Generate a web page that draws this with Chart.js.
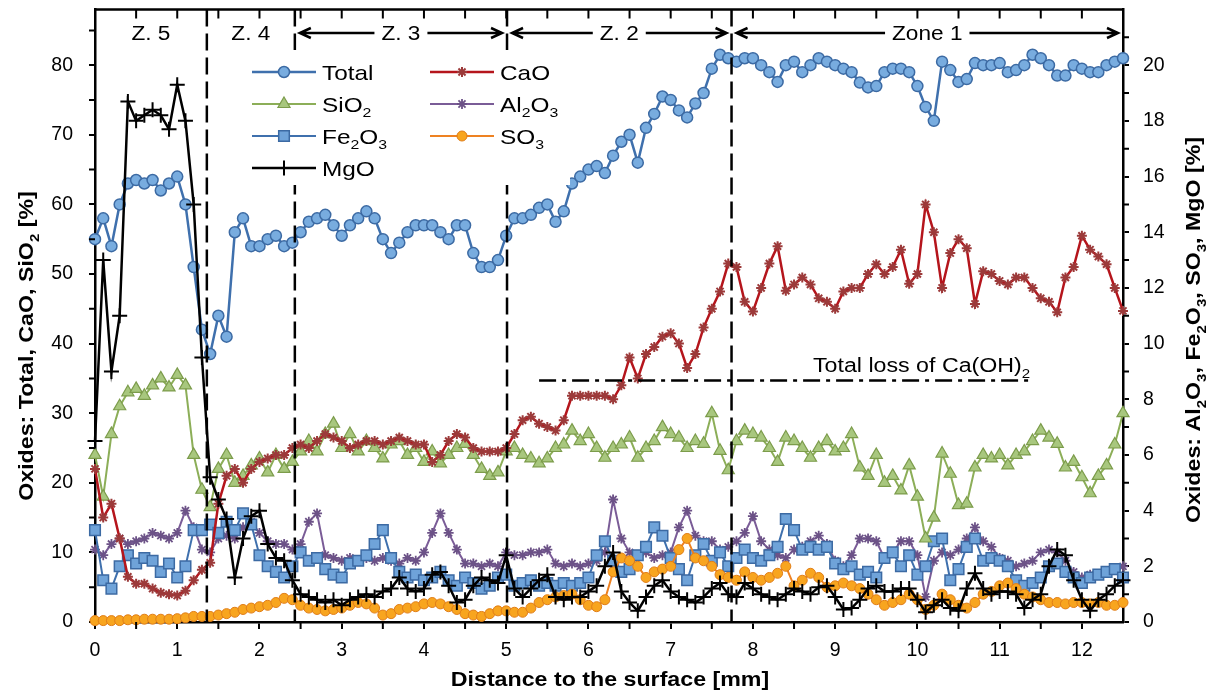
<!DOCTYPE html>
<html>
<head>
<meta charset="utf-8">
<script src="https://cdn.jsdelivr.net/npm/chart.js@4.4.1/dist/chart.umd.min.js"></script>
<style>
html,body{margin:0;padding:0;background:#fff}
#wrap{width:1214px;height:690px}
</style>
</head>
<body>
<div id="wrap"><canvas id="chart" width="1214" height="690"></canvas></div>
<script>
// distance to the surface [mm]
const dist = [
  0,0.1,0.2,0.3,0.4,0.5,0.6,0.7,0.8,0.9,
  1,1.1,1.2,1.3,1.4,1.5,1.6,1.7,1.8,1.9,
  2,2.1,2.2,2.3,2.4,2.5,2.6,2.7,2.8,2.9,
  3,3.1,3.2,3.3,3.4,3.5,3.6,3.7,3.8,3.9,
  4,4.1,4.2,4.3,4.4,4.5,4.6,4.7,4.8,4.9,
  5,5.1,5.2,5.3,5.4,5.5,5.6,5.7,5.8,5.9,
  6,6.1,6.2,6.3,6.4,6.5,6.6,6.7,6.8,6.9,
  7,7.1,7.2,7.3,7.4,7.5,7.6,7.7,7.8,7.9,
  8,8.1,8.2,8.3,8.4,8.5,8.6,8.7,8.8,8.9,
  9,9.1,9.2,9.3,9.4,9.5,9.6,9.7,9.8,9.9,
  10,10.1,10.2,10.3,10.4,10.5,10.6,10.7,10.8,10.9,
  11,11.1,11.2,11.3,11.4,11.5,11.6,11.7,11.8,11.9,
  12,12.1,12.2,12.3,12.4,12.5
]

// left axis series [%]
const total = [
  55,58,54,60,63,63.5,63,63.5,62,63,
  64,60,51,42,38.5,44,41,56,58,54,
  54,55,55.5,54,54.5,56,57.5,58,58.5,57,
  55.5,57,58,59,58,55,53,54.5,56,57,
  57,57,56,55,57,57,53,51,51,52,
  55.5,58,58,58.5,59.5,60,57.5,59,63,64,
  65,65.5,64.5,67,69,70,66,71,73,75.5,
  75,73.5,72.5,74.5,76,79.5,81.5,81,80.5,81,
  81,80,79,77.6,80,80.5,79,80,81,80.5,
  80,79.5,79,77.5,76.8,77,79,79.5,79.5,79,
  77,74,72,80.5,79.3,77.6,78,80.3,80,80,
  80.3,79,79.3,80,81.5,81,80,78.5,78.5,80,
  79.5,79,79,80,80.5,81
]
const cao = [
  22,15,17,12,6.5,5.5,5.5,4.8,4.2,4,
  3.8,4.5,6,7.5,8.5,17,21,22,20,22,
  23,23.5,24,24,25,25.5,25,26,27,26.5,
  26,25,25.5,26,26,25.5,26,26.5,26,25.5,
  25.5,23,24,26,27,26.5,25,24.5,24.5,24.5,
  25,27,29,29.5,28.5,28,27.5,29,32.5,32.5,
  32.5,32.5,32.5,32,34,38,35,38.5,39.5,41,
  41.5,40,36.5,38.5,42.3,45,47.5,51.5,51,46,
  44.6,48,51.5,54,47.6,48.5,49.5,48.5,46.5,46,
  45,47.5,48,48,50,51.4,50,51,53.5,48.6,
  50,60,56,48,53,55,53.7,45.7,50.4,50,
  49,48.5,49.5,49.5,48,46.5,46,44.5,49.5,51,
  55.5,53.5,52.5,51.4,48,44.7
]
const sio2 = [
  24,18,27,31,33,33.5,32.5,34,35,33.7,
  35.5,34,24,19,16.5,22,24,20,21,22.5,
  23.5,21.5,24,22,23,24.5,26,24.5,27,28.5,
  25,27,24.5,26,25,23.5,25.5,26,24,25,
  23,24.5,22.8,24,25,25.6,24,22,21,21.5,
  24.5,25,24,23.5,22.8,23.5,25,25.5,27.5,26,
  27,25,23.6,25,25.5,26.5,23.6,25,26,28,
  27,26.5,25,26,25.6,30,24.6,21.8,26,27.5,
  27,26.5,25,23,26.5,26,25,23.6,25,26,
  24.5,25,27,22.2,21,24,20,21,18.9,22.5,
  18,12,15,24.2,21.3,16.8,17,22.2,24,23.5,
  24,22.5,24,24.5,26,27.5,26.5,25.6,22.2,23,
  20.8,18.5,21,22.5,25.5,30
]

// right axis series [%]
const al2o3 = [
  2.6,2.4,2.8,3.0,2.8,2.9,3.0,3.2,3.1,3.0,
  3.2,4.0,3.4,2.6,2.5,3.0,3.1,3.0,3.4,3.6,
  3.2,2.9,2.8,2.8,2.6,2.8,3.6,3.9,2.4,2.3,
  2.2,2.3,2.2,2.3,2.2,2.3,2.2,2.1,2.3,2.2,
  2.5,3.2,3.9,3.2,2.6,2.1,2.1,2.0,2.1,2.0,
  2.5,2.4,2.4,2.5,2.5,2.6,2.1,2.0,2.1,2.0,
  2.1,2.2,2.5,4.4,3.0,2.5,2.4,2.5,2.3,2.4,
  2.5,3.4,4.0,3.1,2.9,2.9,2.6,2.7,2.9,3.2,
  3.8,2.9,2.6,2.4,2.3,2.6,2.7,2.9,3.1,2.8,
  2.2,2.0,2.4,3.0,3.0,2.9,2.3,2.5,2.9,2.9,
  2.4,0.9,2.2,2.5,2.4,2.6,3.0,3.4,2.9,2.7,
  2.3,2.2,2.0,2.1,2.2,2.5,2.6,2.5,2.2,1.8,
  1.6,1.7,1.7,1.8,1.9,2.0
]
const fe2o3 = [
  3.3,1.5,1.2,2.0,2.4,2.1,2.3,2.2,1.8,2.1,
  1.6,2.0,3.3,3.3,3.5,3.2,3.6,3.3,3.9,3.5,
  2.4,2.0,1.8,1.6,2.0,2.5,2.2,2.3,1.9,1.7,
  1.6,2.1,2.2,2.4,2.8,3.3,2.3,1.8,1.6,1.7,
  1.5,1.6,1.8,1.5,1.3,1.6,1.4,1.2,1.3,1.6,
  1.7,1.3,1.4,1.5,1.3,1.4,1.3,1.4,1.3,1.4,
  1.6,2.4,2.9,2.2,1.8,1.9,2.4,2.7,3.4,3.1,
  2.3,1.9,1.5,2.4,2.8,2.2,2.5,2.0,2.3,2.6,
  2.3,2.2,2.4,2.7,3.7,3.3,2.6,2.7,2.6,2.7,
  2.1,1.9,2.0,1.7,1.8,1.6,2.3,2.5,2.0,2.4,
  1.7,2.0,2.9,3.0,1.5,1.9,2.7,3.0,2.2,2.3,
  2.2,2.0,1.5,1.3,1.4,1.6,2.0,2.1,1.8,1.6,
  1.4,1.6,1.7,1.8,1.9,1.6
]
const so3 = [
  0.05,0.05,0.05,0.05,0.08,0.08,0.1,0.1,0.1,0.1,
  0.12,0.15,0.2,0.2,0.2,0.25,0.3,0.35,0.45,0.5,
  0.55,0.6,0.7,0.85,0.8,0.6,0.5,0.45,0.4,0.45,
  0.5,0.6,0.7,0.65,0.5,0.25,0.3,0.45,0.5,0.55,
  0.65,0.7,0.65,0.55,0.45,0.3,0.25,0.2,0.3,0.4,
  0.4,0.35,0.35,0.5,0.7,0.8,0.9,0.95,1.0,0.8,
  0.6,0.55,0.8,1.8,2.3,2.2,2.0,1.6,1.8,1.9,
  2.0,2.6,3.0,2.3,2.2,2.0,1.7,1.6,1.5,1.8,
  1.6,1.5,1.6,1.75,2.0,1.3,1.5,1.75,1.6,1.25,
  1.3,1.4,1.3,1.2,1.0,0.8,0.6,0.7,0.8,1.0,
  0.8,0.45,0.6,1.0,0.8,0.6,0.5,0.7,1.0,1.1,
  1.3,1.4,1.2,1.0,0.9,0.8,0.7,0.7,0.65,0.7,
  0.7,0.65,0.7,0.6,0.6,0.7
]
const mgo = [
  6.5,13,9,11,18.7,18,18.2,18.4,18.2,17.7,
  19.3,18,15,9.5,5.2,4.4,3.7,1.6,3.0,3.8,
  4.0,2.8,2.3,2.2,1.5,1.0,0.9,0.8,0.7,0.8,
  0.6,0.8,0.9,1.0,0.9,1.1,1.2,1.6,1.2,1.1,
  1.2,1.7,1.8,1.3,0.7,0.8,1.3,1.6,1.5,1.4,
  2.4,1.2,0.9,1.2,1.5,1.7,0.9,0.8,0.9,0.9,
  1.1,1.3,2.0,2.5,1.1,0.7,0.4,0.9,1.3,1.5,
  1.1,0.9,0.8,0.7,0.9,1.2,1.4,1.0,0.9,1.4,
  1.2,1.0,0.9,0.8,1.0,1.2,1.1,1.0,1.25,1.3,
  0.9,0.45,0.5,0.8,1.2,1.3,1.1,1.1,1.2,1.2,
  0.8,0.35,0.6,0.8,0.5,0.4,1.2,1.75,1.2,1.0,
  1.1,1.1,1.0,0.5,0.8,1.0,2.0,2.6,2.4,1.5,
  0.8,0.4,0.8,1.0,1.3,1.5
]

// axes
const xTicks = [0,1,2,3,4,5,6,7,8,9,10,11,12]
const yTicks = [0,10,20,30,40,50,60,70,80]
const y2Ticks = [0,2,4,6,8,10,12,14,16,18,20]

// zones (boundaries in mm) and labels
const zoneBounds = [0, 1.36, 2.43, 5.01, 7.74, 12.5]
const zoneLabels = ['Z. 5', 'Z. 4', 'Z. 3', 'Z. 2', 'Zone 1']
const zoneArrows = [false, false, true, true, true]

// "total loss of Ca(OH)2" line: from/to [mm], level on left axis
const lossFrom = 5.4
const lossTo = 11.4
const lossLevel = 34.7
const lossText = 'Total loss of Ca(OH)_2'
const lossTextAt = 8.73

const FONT = "'Liberation Sans', Arial, sans-serif"
const SX = 1.16

function rich(ctx, str, x, y, size, opts){
    opts = opts || {}
    const weight = opts.bold ? 'bold ' : ''
    const subSize = size * 0.65
    let w = 0
    const items = str.split(/(_\d)/).filter(s => s.length).map(s => {
        const isSub = s[0] === '_'
        const t = isSub ? s.slice(1) : s
        ctx.font = weight + (isSub ? subSize : size) + 'px ' + FONT
        const mw = ctx.measureText(t).width
        w += mw
        return {t, isSub, mw}
    })
    const sx = opts.sx || SX
    if (opts.measure) return w * sx
    ctx.save()
    ctx.translate(x, y)
    if (opts.rot) ctx.rotate(opts.rot)
    ctx.scale(sx, 1)
    let cx = opts.align === 'center' ? -w / 2 : 0
    ctx.fillStyle = '#000'
    ctx.textAlign = 'left'
    ctx.textBaseline = 'alphabetic'
    items.forEach(it => {
        ctx.font = weight + (it.isSub ? subSize : size) + 'px ' + FONT
        ctx.fillText(it.t, cx, it.isSub ? size * 0.28 : 0)
        cx += it.mw
    })
    ctx.restore()
    return w * sx
}

function arrow(ctx, x1, x2, y){
    const d = x2 > x1 ? -1 : 1
    ctx.beginPath()
    ctx.moveTo(x1, y)
    ctx.lineTo(x2, y)
    ctx.moveTo(x2 + d * 11, y - 5)
    ctx.lineTo(x2, y)
    ctx.lineTo(x2 + d * 11, y + 5)
    ctx.stroke()
}

const series = [
    {name:'Total', data:total, axis:'y', order:1,
     style:{borderColor:'#3f70ad', borderWidth:2.5, pointStyle:'circle', pointRadius:5.5,
            pointBackgroundColor:'#78acdf', pointBorderColor:'#3c6aa3', pointBorderWidth:1.5}},
    {name:'CaO', data:cao, axis:'y', order:2,
     style:{borderColor:'#b5151c', borderWidth:2.5, pointStyle:'star', pointRadius:5,
            pointBackgroundColor:'#9c3a3a', pointBorderColor:'#9c3a3a', pointBorderWidth:2}},
    {name:'SiO_2', data:sio2, axis:'y', order:4,
     style:{borderColor:'#8cae58', borderWidth:2, pointStyle:'triangle', pointRadius:7,
            pointBackgroundColor:'#a8c77e', pointBorderColor:'#7c9c4b', pointBorderWidth:1.2}},
    {name:'Al_2O_3', data:al2o3, axis:'y2', order:6,
     style:{borderColor:'#7a5c97', borderWidth:2, pointStyle:'star', pointRadius:5,
            pointBackgroundColor:'#6c5287', pointBorderColor:'#6c5287', pointBorderWidth:1.8}},
    {name:'Fe_2O_3', data:fe2o3, axis:'y2', order:5,
     style:{borderColor:'#3f70ad', borderWidth:2, pointStyle:'rect', pointRadius:7.5,
            pointBackgroundColor:'#6fa3d9', pointBorderColor:'#3c6aa3', pointBorderWidth:1.5}},
    {name:'SO_3', data:so3, axis:'y2', order:3,
     style:{borderColor:'#ee8222', borderWidth:2, pointStyle:'circle', pointRadius:5,
            pointBackgroundColor:'#f8a51f', pointBorderColor:'#e07d18', pointBorderWidth:1}},
    {name:'MgO', data:mgo, axis:'y2', order:0,
     style:{borderColor:'#000', borderWidth:2.5, pointStyle:'cross', pointRadius:7.5,
            pointBackgroundColor:'#000', pointBorderColor:'#000', pointBorderWidth:2}}
]

const datasets = series.map(s => Object.assign({
    label: s.name.replace(/_2/g,'\u2082').replace(/_3/g,'\u2083'),
    data: dist.map((x, i) => ({x: x, y: s.data[i]})),
    yAxisID: s.axis,
    order: s.order,
    tension: 0,
    clip: false
}, s.style))

// extra drawing: frame, minor ticks, zone marks, legend, titles
const decor = {
    id:'decor',
    afterDatasetsDraw(chart){
        const c = chart.ctx
        const ca = chart.chartArea
        const sx = chart.scales.x, sy = chart.scales.y, sy2 = chart.scales.y2
        c.save()
        c.strokeStyle = '#000'
        c.lineWidth = 2.5
        c.beginPath()
        c.moveTo(ca.left, ca.top)
        c.lineTo(ca.right, ca.top)
        c.stroke()

        // minor ticks
        c.lineWidth = 2
        c.beginPath()
        for (let v = 0.5; v < 12.5; v += 1){
            const px = sx.getPixelForValue(v)
            c.moveTo(px, ca.bottom); c.lineTo(px, ca.bottom + 7)
        }
        for (let v = 0.5; v < 12.5; v += 0.5){
            const px = sx.getPixelForValue(v)
            c.moveTo(px, ca.top); c.lineTo(px, ca.top + 9)
        }
        for (let v = 5; v < 88; v += 10){
            const py = sy.getPixelForValue(v)
            c.moveTo(ca.left, py); c.lineTo(ca.left - 6, py)
        }
        for (let v = 1; v < 22; v += 2){
            const py = sy2.getPixelForValue(v)
            c.moveTo(ca.right, py); c.lineTo(ca.right + 6, py)
        }
        c.stroke()

        // zone boundaries
        c.lineWidth = 2.5
        c.setLineDash([17, 7])
        c.beginPath()
        for (let i = 1; i < zoneBounds.length - 1; i++){
            const px = sx.getPixelForValue(zoneBounds[i])
            c.moveTo(px, ca.top); c.lineTo(px, ca.bottom)
        }
        c.stroke()

        // total loss line
        c.setLineDash([17, 6, 4, 6])
        c.beginPath()
        const ly = sy.getPixelForValue(lossLevel)
        c.moveTo(sx.getPixelForValue(lossFrom), ly)
        c.lineTo(sx.getPixelForValue(lossTo), ly)
        c.stroke()
        c.setLineDash([])
        rich(c, lossText, sx.getPixelForValue(lossTextAt), ly - 8, 20)

        // zone labels
        c.lineWidth = 2.5
        const zy = 40
        for (let i = 0; i < zoneLabels.length; i++){
            const a = sx.getPixelForValue(zoneBounds[i])
            const b = sx.getPixelForValue(zoneBounds[i + 1])
            const mid = (a + b) / 2
            const w = rich(c, zoneLabels[i], mid, zy, 19.5, {align:'center'})
            if (zoneArrows[i]){
                arrow(c, mid - w / 2 - 7, a + 5, zy - 7)
                arrow(c, mid + w / 2 + 7, b - 5, zy - 7)
            }
        }

        // legend
        c.fillStyle = '#fff'
        c.fillRect(243, 50, 327, 135)
        const colX = [252, 430]
        series.forEach((s, i) => {
            const x0 = colX[i % 2]
            const y0 = 72 + Math.floor(i / 2) * 32
            c.strokeStyle = s.style.borderColor
            c.lineWidth = s.style.borderWidth
            c.beginPath(); c.moveTo(x0, y0); c.lineTo(x0 + 64, y0); c.stroke()
            c.fillStyle = s.style.pointBackgroundColor
            c.strokeStyle = s.style.pointBorderColor
            c.lineWidth = s.style.pointBorderWidth
            Chart.helpers.drawPoint(c, {pointStyle:s.style.pointStyle, radius:s.style.pointRadius,
                rotation:0, borderWidth:s.style.pointBorderWidth}, x0 + 32, y0)
            rich(c, s.name, x0 + 70, y0 + 7.5, 21)
        })

        // axis titles
        rich(c, 'Distance to the surface [mm]', (ca.left + ca.right) / 2 + 1, 686, 20, {bold:true, align:'center'})
        rich(c, 'Oxides: Total, CaO, SiO_2 [%]', 33, 346, 20, {bold:true, align:'center', rot:-Math.PI / 2})
        rich(c, 'Oxides: Al_2O_3, Fe_2O_3, SO_3, MgO [%]', 1200, 330, 20, {bold:true, align:'center', rot:-Math.PI / 2})
        c.restore()
    }
}

const axisGrid = {display:true, drawOnChartArea:false, drawTicks:true, tickLength:6, color:'#000', lineWidth:2}
const axisBorder = {display:true, color:'#000', width:2.5}
const tickFont = {family:FONT, size:19.5}

function noPad(s){
    s.paddingTop = 0
    s.paddingBottom = 0
    s.paddingLeft = 0
    s.paddingRight = 0
}

new Chart(document.getElementById('chart'), {
    type:'line',
    data:{datasets:datasets},
    options:{
        responsive:false,
        animation:false,
        layout:{padding:{top:8, left:0, right:0, bottom:0}},
        plugins:{legend:{display:false}, tooltip:{enabled:false}},
        scales:{
            x:{
                type:'linear', min:0, max:12.5,
                afterBuildTicks: s => { s.ticks = xTicks.map(v => ({value:v})) },
                afterFit: s => { s.height = 68; noPad(s) },
                grid:Object.assign({}, axisGrid, {tickLength:7}),
                border:axisBorder,
                ticks:{font:tickFont, color:'#000', padding:10, maxRotation:0, autoSkip:false}
            },
            y:{
                position:'left', min:0, max:88,
                afterBuildTicks: s => { s.ticks = yTicks.map(v => ({value:v})) },
                afterFit: s => { s.width = 95; noPad(s) },
                grid:axisGrid,
                border:axisBorder,
                ticks:{font:tickFont, color:'#000', padding:16}
            },
            y2:{
                position:'right', min:0, max:22,
                afterBuildTicks: s => { s.ticks = y2Ticks.map(v => ({value:v})) },
                afterFit: s => { s.width = 91; noPad(s) },
                grid:axisGrid,
                border:axisBorder,
                ticks:{font:tickFont, color:'#000', padding:14}
            }
        }
    },
    plugins:[decor]
})
</script>
</body>
</html>
